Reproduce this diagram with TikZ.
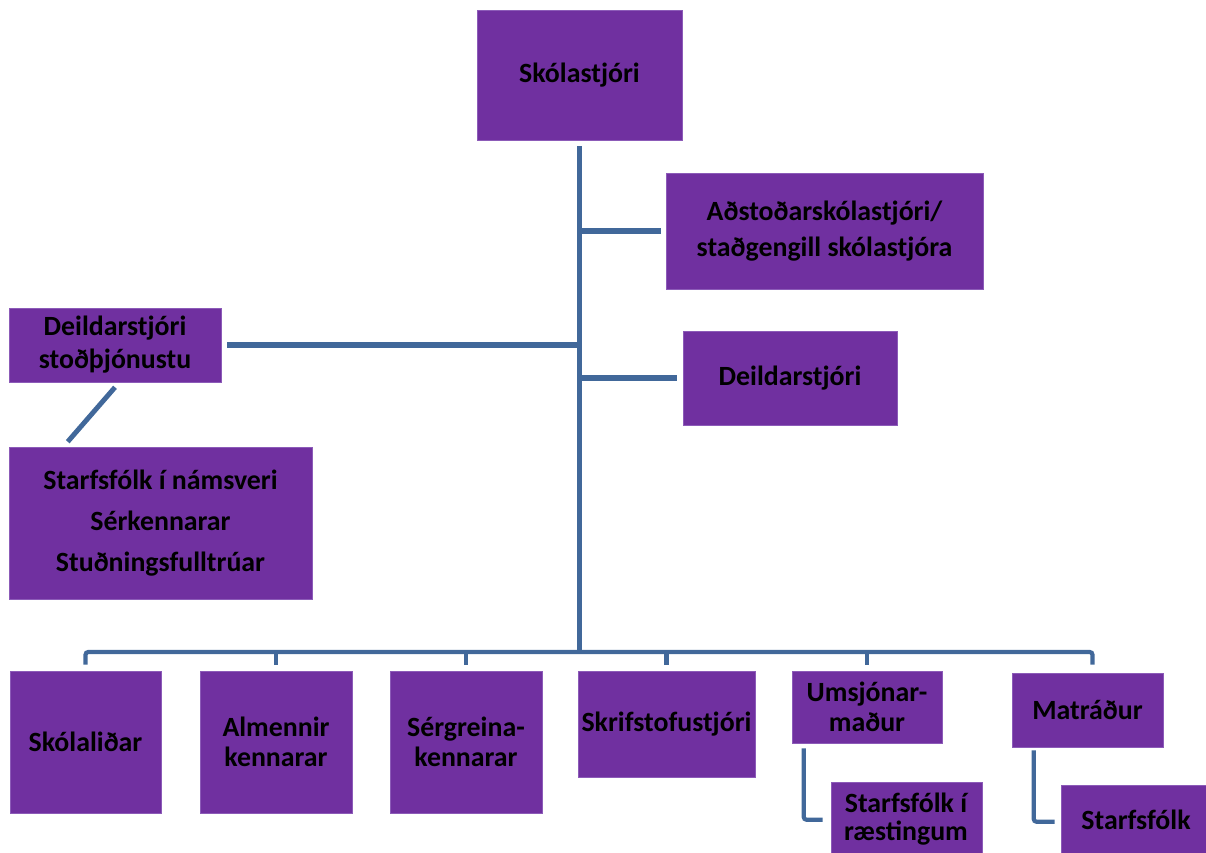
\documentclass[tikz,border=0pt]{standalone}
\usepackage{fontspec}
\setmainfont{Carlito}
\usetikzlibrary{calc}
\definecolor{boxpurple}{HTML}{7030A0}
\definecolor{boxedge}{HTML}{8C5BB8}
\definecolor{linkblue}{HTML}{41689A}
\newcommand\lbl[1]{\bfseries\fontsize{19.8}{#1}\selectfont}
\begin{document}
\begin{tikzpicture}[x=0.025cm,y=-0.025cm,
  box/.style={fill=boxpurple, draw=boxedge, line width=0.4pt, inner sep=0pt, align=center, font=\lbl{25}},
  sz/.style 2 args={minimum width=#1*0.025cm, minimum height=#2*0.025cm},
  lbltext/.style={inner sep=0pt, align=center},
  conn/.style={draw=linkblue, line width=4.2pt},
  busline/.style={draw=linkblue, line width=3pt, rounded corners=2pt},
  subline/.style={draw=linkblue, line width=3pt, rounded corners=2pt}]
\useasboundingbox (0,0) rectangle (1206,853);
% boxes
\node[box, sz={205}{130}] (s) at (579.5,75) {Skólastjóri};
\node[box, sz={317}{116}, font=\lbl{25.5}] (a) at (824.5,231) {Aðstoðarskólastjóri/\\staðgengill skólastjóra};
\node[box, sz={214}{94}] (d) at (790,378) {Deildarstjóri};
\node[box, sz={212}{74}, font=\lbl{23.4}] (ds) at (115,345) {Deildarstjóri\\stoðþjónustu};
\node[box, sz={303}{152}, font=\lbl{29}] (ns) at (160.5,523) {Starfsfólk í námsveri\\Sérkennarar\\Stuðningsfulltrúar};
\node[box, sz={151}{142}, font=\lbl{21}] (b1) at (85.5,742) {Skólaliðar};
\node[box, sz={152}{142}, font=\lbl{21}] (b2) at (276,742) {Almennir\\kennarar};
\node[box, sz={152}{142}, font=\lbl{21}] (b3) at (466,742) {Sérgreina-\\kennarar};
\node[box, sz={177}{106}, font=\lbl{21}] (b4) at (666.5,724) {Skrifstofustjóri};
\node[box, sz={150}{72}, font=\lbl{21}] (b5) at (867,707) {Umsjónar-\\maður};
\node[box, sz={151}{74}, font=\lbl{21}] (b6) at (1087.5,710) {Matráður};
\node[box, sz={151}{118}] (r) at (906.5,841) {};
\node[lbltext, font=\lbl{20}] (rt) at (906,819) {Starfsfólk í\\ræstingum};
\node[box, sz={151}{115}] (st) at (1136.5,842.5) {};
\node[lbltext, font=\lbl{20}] (stt) at (1136,820) {Starfsfólk};
% connectors
\coordinate (bus) at (579.5,652);
\draw[conn] ($(s.south)+(0,6)$) -- (s.south |- bus);
\draw[conn] (s.south |- a.west) -- ($(a.west)+(-5,0)$);
\draw[conn] (s.south |- d.west) -- ($(d.west)+(-6,0)$);
\draw[conn] ($(ds.east)+(6,0)$) -- (s.south |- ds.east);
\draw[conn, line width=3.5pt] ($(ds.south)+(0,5)$) -- ($(ns.north west)+(59,-5)$);
\draw[busline] ($(b1.north)+(0,-6)$) |- (bus) -| ($(b6.north)+(5,-8)$);
\foreach \b in {b2,b3,b4,b5}
  \draw[busline] (\b.north |- bus) -- ($(\b.north)+(0,-6)$);
\draw[subline] ($(b5.south west)+(12,5)$) |- ($(r.north west)+(-8,38)$);
\draw[subline] ($(b6.south west)+(22,3)$) |- ($(st.north west)+(-6,37)$);
\end{tikzpicture}
\end{document}
